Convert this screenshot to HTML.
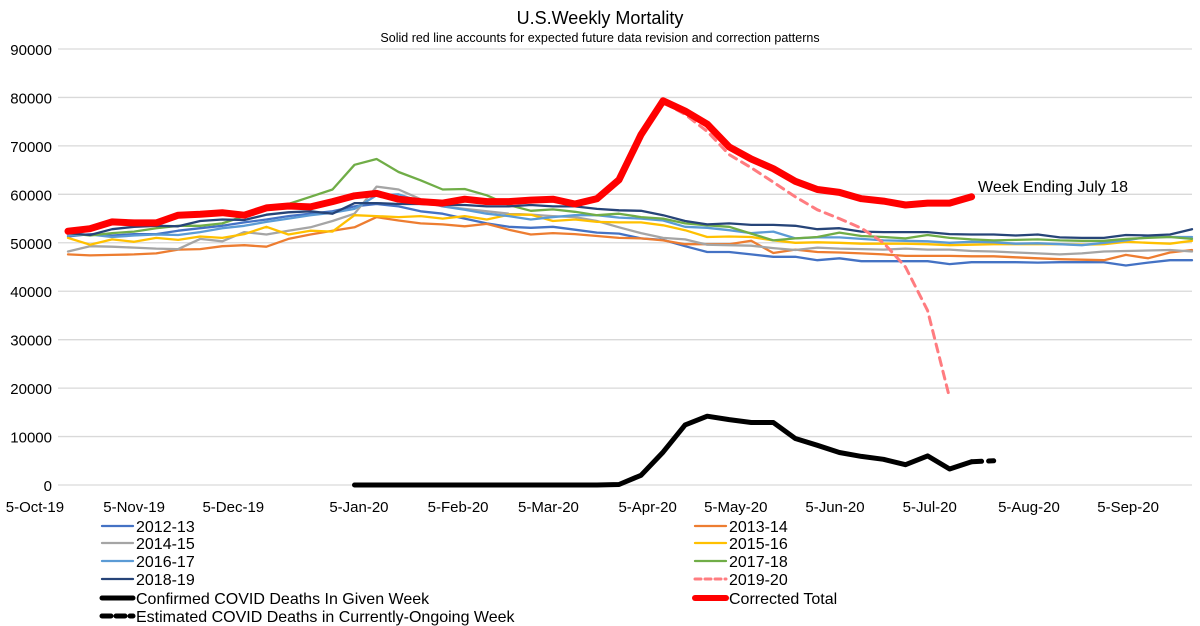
<!DOCTYPE html>
<html><head><meta charset="utf-8"><style>
body{margin:0;background:#fff;}
svg{display:block;font-family:"Liberation Sans",sans-serif;}
</style></head><body>
<svg id="chart" width="1200" height="626" viewBox="0 0 1200 626">
<text x="600" y="24" text-anchor="middle" font-size="18">U.S.Weekly Mortality</text>
<text x="600" y="42" text-anchor="middle" font-size="12.5">Solid red line accounts for expected future data revision and correction patterns</text>
<g id="grid"></g><g id="yt"></g><g id="xt"></g><g id="series"></g><g id="legend"></g>
<text x="978" y="192" font-size="16">Week Ending July 18</text>
</svg>
<script>
const yTicks=[0,10000,20000,30000,40000,50000,60000,70000,80000,90000];
const xTickLabels=["5-Oct-19","5-Nov-19","5-Dec-19","5-Jan-20","5-Feb-20","5-Mar-20","5-Apr-20","5-May-20","5-Jun-20","5-Jul-20","5-Aug-20","5-Sep-20"];
const xTickWeek=[-1.5,3.0,7.5,13.2,17.7,21.8,26.3,30.3,34.8,39.1,43.6,48.1];
const s1213=[51300,51800,51500,51800,51800,52500,53000,53500,54200,54800,55500,56000,56500,57500,58000,57500,56500,56000,55000,54000,53300,53100,53300,52700,52100,51900,50900,50600,49300,48100,48100,47600,47100,47100,46400,46800,46200,46200,46200,46200,45600,46000,46000,46000,45900,46000,46000,46000,45300,45900,46400,46400];
const s1314=[47600,47400,47500,47600,47800,48600,48700,49300,49500,49200,50800,51700,52500,53200,55300,54600,54000,53800,53400,53900,52700,51700,52000,51800,51400,51000,50900,50500,49700,49700,49700,50400,47900,48600,48100,48000,47800,47600,47300,47300,47300,47200,47200,47000,46800,46600,46500,46400,47500,46800,48000,48500];
const s1415=[48200,49300,49200,49000,48800,48700,50800,50300,52200,51700,52500,53200,54500,56000,61600,61000,59000,57500,57000,56500,56000,55800,55500,55300,54500,53200,52000,51000,50700,49600,49500,49400,48900,48500,49000,48800,48700,48600,48800,48600,48600,48300,48200,48000,47800,47600,47800,48200,48300,48400,48500,48200];
const s1516=[51000,49600,50700,50200,51000,50600,51300,51000,51800,53300,51700,52500,52300,55700,55500,55300,55500,55000,55500,54800,55800,55800,54500,54800,54300,54200,54200,53600,52600,51200,51300,51200,50500,50000,50100,50000,49800,49800,49800,49700,49500,49600,49700,49700,49700,49700,49600,49700,50200,50000,49800,50400];
const s1617=[51500,51700,51200,51500,51700,51600,52200,53000,53500,54300,55000,55700,56200,57000,59800,60000,58500,57500,56800,56000,55500,54800,55300,55700,55700,55200,55000,54600,53300,53100,52600,52000,52300,50900,51100,51100,50800,50500,50400,50300,50000,50200,50100,49800,49900,49700,49500,50000,50500,51200,51200,51200];
const s1718=[52000,51500,52000,52300,53000,53500,53500,54000,55500,56800,58000,59500,61000,66100,67300,64600,62900,61000,61100,59800,57800,56600,56900,56400,55700,56000,55300,55000,54000,53600,53300,51900,50500,50900,51200,52100,51400,51200,50900,51600,51000,50700,50500,50600,50700,50500,50400,50400,50800,51000,51200,50800];
const s1819=[52000,51600,52800,53300,53500,53400,54500,54800,54700,55800,56300,56500,56000,58200,58200,58000,58000,57800,57800,57500,57500,57800,57500,57500,57000,56700,56600,55700,54500,53800,54000,53700,53700,53500,52800,53000,52300,52200,52200,52200,51800,51700,51700,51500,51700,51100,51000,51000,51600,51500,51700,52800];
const s1920=[52200,52700,54000,53800,53800,55400,55600,55900,55400,56900,57300,57100,58200,59400,59900,58700,58200,57900,58700,58200,58200,58500,58700,57700,58800,62700,72000,79000,76500,73000,68200,65500,62500,59500,56800,55000,53000,50000,45000,36000,18000];
const corrected=[52400,52900,54300,54100,54100,55700,55900,56200,55700,57200,57600,57400,58500,59700,60200,59000,58500,58200,59000,58500,58500,58800,59000,58000,59100,63000,72300,79300,77200,74500,69800,67300,65300,62700,61000,60400,59100,58600,57800,58200,58200,59500];
const covidStart=13;
const covid=[0,0,0,0,0,0,0,0,0,0,0,0,100,2000,6800,12400,14200,13500,12900,12900,9600,8200,6700,5900,5300,4200,6000,3300,4800];
const covidEst=[4800,5000];
const W0=68,DW=22.04,Y0=485,YS=90000,YH=436;
const xs=i=>W0+i*DW, ys=v=>Y0-v/YS*YH;
const NS="http://www.w3.org/2000/svg";
function mk(t,p,a){const e=document.createElementNS(NS,t);for(const k in a)e.setAttribute(k,a[k]);p.appendChild(e);return e;}
const grid=document.getElementById('grid'),yt=document.getElementById('yt'),xt=document.getElementById('xt'),ser=document.getElementById('series'),lg=document.getElementById('legend');
yTicks.forEach(v=>{
 const l=mk('line',grid,{x1:58,x2:1192,y1:ys(v),y2:ys(v),stroke:'#d9d9d9','stroke-width':1.3});
 
 
 const t=mk('text',yt,{x:52,y:ys(v)+6,'text-anchor':'end','font-size':15});
 t.textContent=v;
 
 
});
xTickLabels.forEach((s,i)=>{
 const t=mk('text',xt,{x:xs(xTickWeek[i]),y:512,'text-anchor':'middle','font-size':15});
 t.textContent=s;
 
 
});
function line(arr,start,color,w,dash,name){
 const pts=arr.map((v,i)=>xs(start+i).toFixed(1)+','+ys(v).toFixed(1)).join(' ');
 const p=mk('polyline',ser,{points:pts,fill:'none',stroke:color,'stroke-width':w,'stroke-linejoin':'round','stroke-linecap':'round'});
 if(dash)p.setAttribute('stroke-dasharray',dash);
 
 
}
line(s1213,0,'#4472c4',2.3,null,'series-2012-13');
line(s1314,0,'#ed7d31',2.3,null,'series-2013-14');
line(s1415,0,'#a5a5a5',2.3,null,'series-2014-15');
line(s1516,0,'#ffc000',2.3,null,'series-2015-16');
line(s1617,0,'#5b9bd5',2.3,null,'series-2016-17');
line(s1718,0,'#70ad47',2.3,null,'series-2017-18');
line(s1819,0,'#264478',2.3,null,'series-2018-19');
line(s1920,0,'#ff7c80',3,'8 6','series-2019-20');
line(corrected,0,'#ff0000',7,null,'series-corrected-total');
line(covid,covidStart,'#000000',5,null,'series-confirmed-covid');
line(covidEst,covidStart+covid.length-1,'#000000',5,'10 7','series-estimated-covid');
const leg=[
 [100,526,'#4472c4',2.3,null,'2012-13'],[693,526,'#ed7d31',2.3,null,'2013-14'],
 [100,543,'#a5a5a5',2.3,null,'2014-15'],[693,543,'#ffc000',2.3,null,'2015-16'],
 [100,561,'#5b9bd5',2.3,null,'2016-17'],[693,561,'#70ad47',2.3,null,'2017-18'],
 [100,579,'#264478',2.3,null,'2018-19'],[693,579,'#ff7c80',3,'6 4','2019-20'],
 [100,598,'#000',5,null,'Confirmed COVID Deaths In Given Week'],[693,598,'#ff0000',6,null,'Corrected Total'],
 [100,616,'#000',5,'9 5','Estimated COVID Deaths in Currently-Ongoing Week']];
leg.forEach(e=>{
 const g=mk('g',lg,{});
 
 
 const l=mk('line',g,{x1:e[0]+2,x2:e[0]+33,y1:e[1],y2:e[1],stroke:e[2],'stroke-width':e[3],'stroke-linecap':'round'});
 if(e[4])l.setAttribute('stroke-dasharray',e[4]);
 const t=mk('text',g,{x:e[0]+36,y:e[1]+6,'font-size':16});
 t.textContent=e[5];
});
</script>
</body></html>
